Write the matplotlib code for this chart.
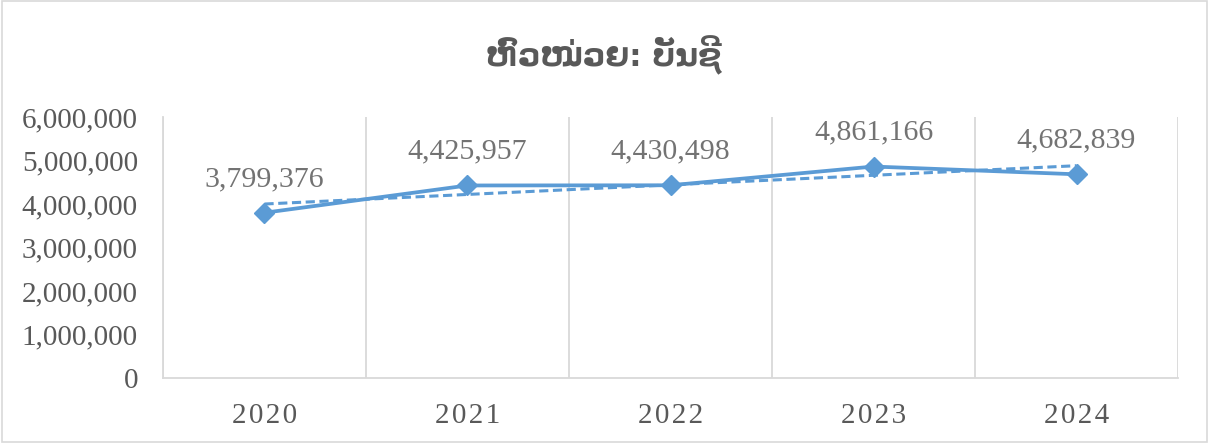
import numpy as np
import matplotlib.pyplot as plt
from matplotlib.patches import Rectangle
from matplotlib.ticker import FuncFormatter

# ຂໍ້ມູນ
years = ["2020", "2021", "2022", "2023", "2024"]
accounts = [3799376, 4425957, 4430498, 4861166, 4682839]
title = "ຫົວໜ່ວຍ: ບັນຊີ"

blue = "#5B9BD5"
grid_gray = "#D9D9D9"
text_gray = "#595959"

fig = plt.figure(figsize=(12.09, 4.43), dpi=100)
ax = fig.add_axes([0.1348, 0.1467, 0.8396, 0.5892])

x = np.arange(len(years))
y = np.array(accounts)

ax.plot(x, y, color=blue, linewidth=2.7, marker="D", markersize=10.5, zorder=3)

# linea de tendencia lineal
coef = np.polyfit(x, y, 1)
ax.plot(x, np.polyval(coef, x), color=blue, linewidth=2.2,
        linestyle=(0, (3, 1.5)), zorder=2)

for xi, yi in zip(x, y):
    ax.annotate(f"{yi:,}", (xi, yi), xytext=(0, 15), textcoords="offset points",
                ha="center", va="bottom", fontsize=21.5, color="#737373",
                family="Liberation Serif")

ax.set_xlim(-0.5, len(years) - 0.5)
ax.set_ylim(0, 6000000)
ax.set_yticks(np.arange(0, 6000001, 1000000))
ax.yaxis.set_major_formatter(FuncFormatter(lambda v, p: f"{int(v):,}"))
ax.set_xticks(x)
ax.set_xticklabels(["\u200a".join(s) for s in years])
ax.set_xticks(np.arange(-0.5, len(years)), minor=True)
ax.grid(axis="x", which="minor", color=grid_gray, linewidth=1.3)
ax.tick_params(axis="both", which="both", length=0)
ax.tick_params(axis="y", pad=18)
ax.tick_params(axis="x", pad=18)

for lab in ax.get_yticklabels() + ax.get_xticklabels():
    lab.set_family("Liberation Serif")
    lab.set_fontsize(21)
    lab.set_color(text_gray)

for s in ["top", "right"]:
    ax.spines[s].set_visible(False)
for s in ["left", "bottom"]:
    ax.spines[s].set_color(grid_gray)
    ax.spines[s].set_linewidth(1.3)

fig.text(0.4995, 0.875, title, ha="center", va="center", fontsize=22.5,
         fontweight="bold", color=text_gray, family=["DejaVu Sans"])

fig.patches.append(Rectangle((0.002, 0.003), 0.996, 0.994, transform=fig.transFigure,
                             fill=False, edgecolor=grid_gray, linewidth=1.2))

fig.savefig("out.png", dpi=100)
